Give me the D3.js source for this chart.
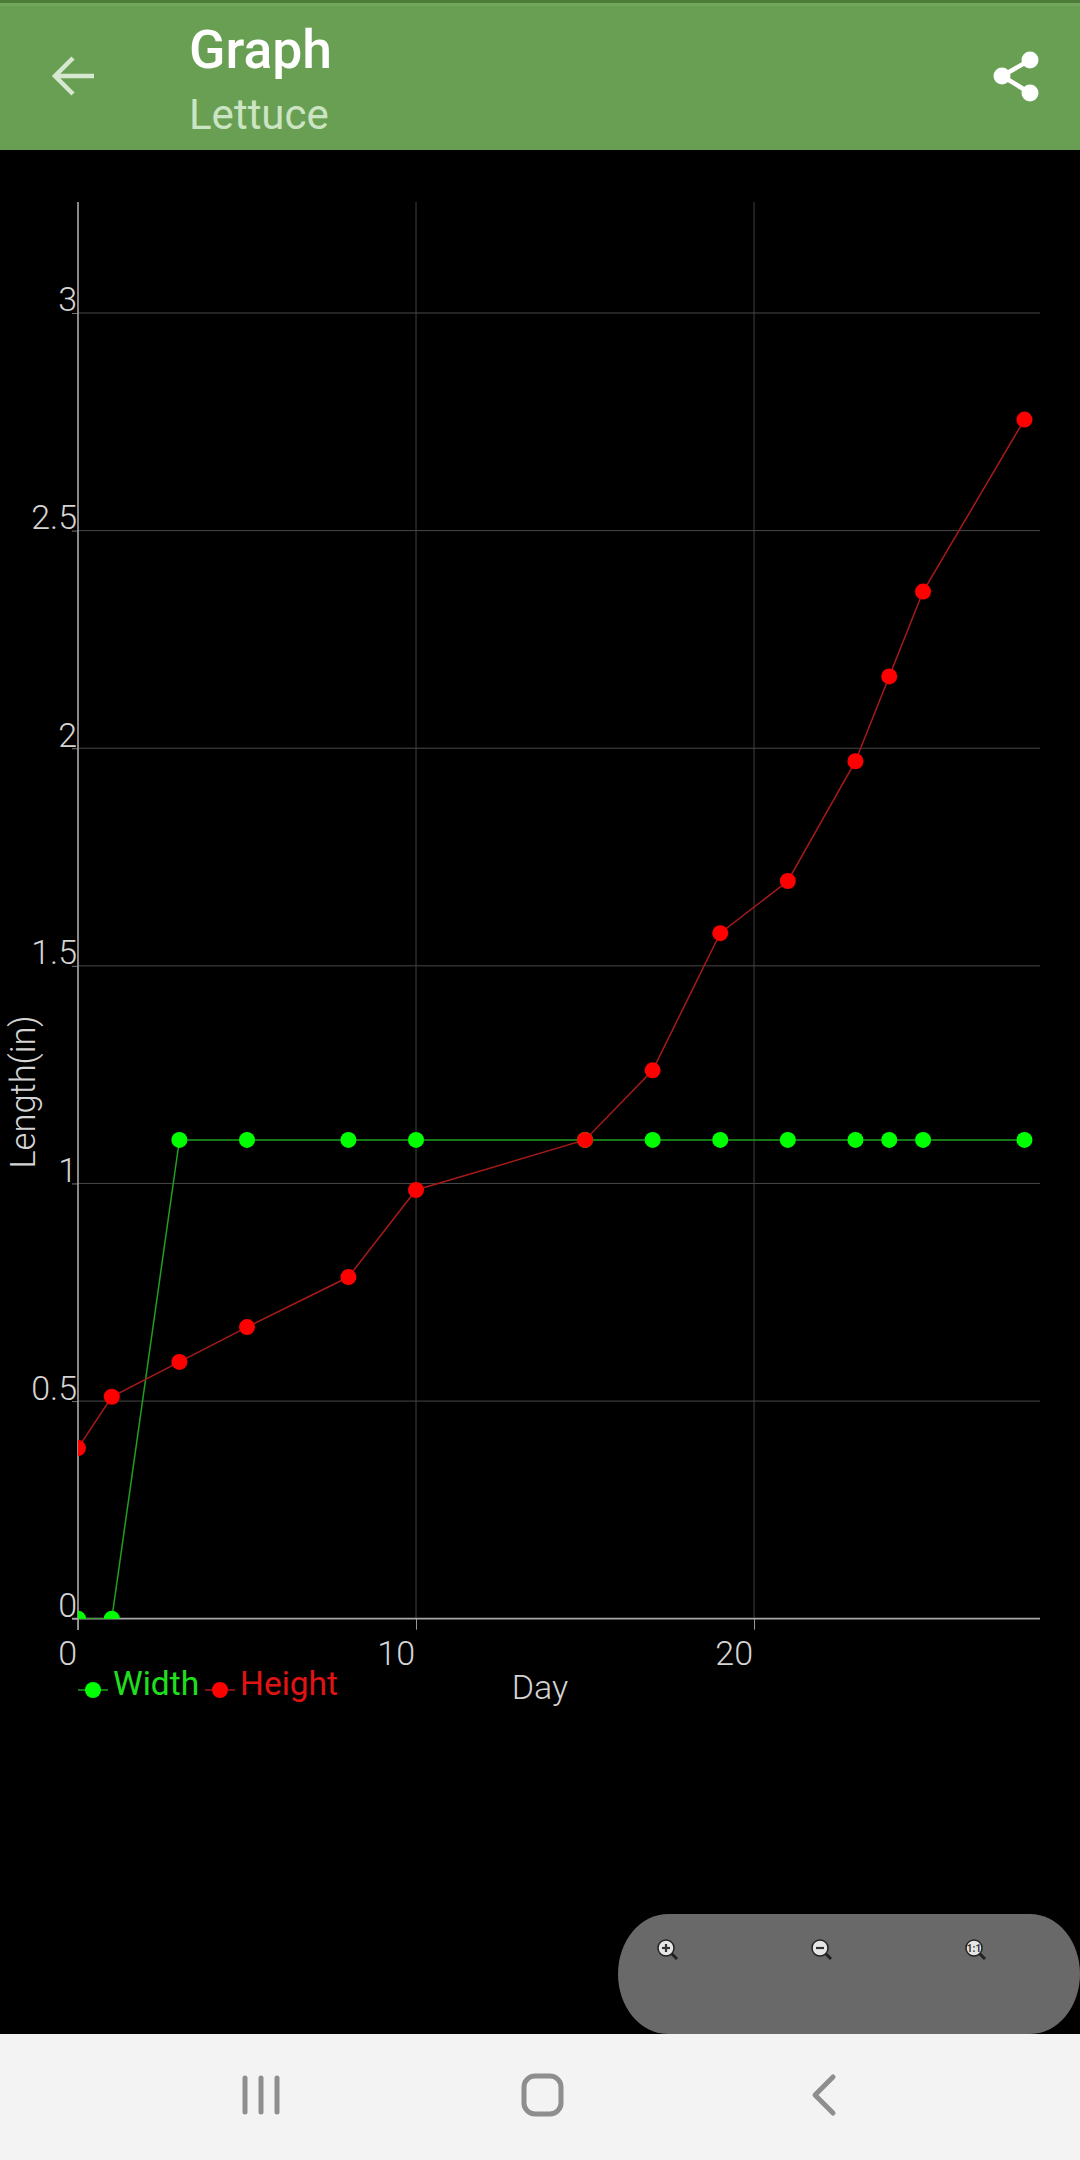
<!DOCTYPE html>
<html><head><meta charset="utf-8">
<script src="https://cdn.jsdelivr.net/npm/d3@7/dist/d3.min.js"></script>
<style>html,body{margin:0;padding:0;background:#000;overflow:hidden}svg{display:block}text{font-family:Roboto,sans-serif}</style>
</head><body><svg id="c" width="1080" height="2160"></svg>
<script>
const days=[0,1,3,5,8,10,15,17,19,21,23,24,25,28];
const widthValues=[0,0,1.1,1.1,1.1,1.1,1.1,1.1,1.1,1.1,1.1,1.1,1.1,1.1];
const heightValues=[0.392,0.51,0.59,0.67,0.785,0.985,1.1,1.26,1.575,1.695,1.97,2.165,2.36,2.755];
const xTicks=[0,10,20];
const yTicks=[0,0.5,1,1.5,2,2.5,3];
const seriesNames=["Width","Height"];
const seriesColors=["#00ff00","#ff0000"];
const lineColors=["#1fa01f","#a81a1a"];

const svg=d3.select("#c");
const W=1080;
// chrome
svg.append("rect").attr("width",W).attr("height",2160).attr("fill","#000");
svg.append("rect").attr("width",W).attr("height",150).attr("fill","#699f52");
svg.append("rect").attr("width",W).attr("height",3).attr("fill","#4d7c38");
svg.append("rect").attr("y",3).attr("width",W).attr("height",3).attr("fill","#72a65c");
svg.append("text").attr("x",189).attr("y",68).attr("font-size",53.5).attr("font-weight",500).attr("fill","#fff").text("Graph");
svg.append("text").attr("x",189).attr("y",129).attr("font-size",42).attr("fill","#cbe4c3").text("Lettuce");
svg.append("path").attr("d","M94 76H56M73 58L55 76L73 94").attr("fill","none").attr("stroke","#d6e8d0").attr("stroke-width",4.5);
const sh=svg.append("g").attr("fill","#fff");
sh.append("path").attr("d","M1030 60L1002 76L1030 93").attr("fill","none").attr("stroke","#fff").attr("stroke-width",4.5);
[[1030,60],[1002,76],[1030,93]].forEach(p=>sh.append("circle").attr("cx",p[0]).attr("cy",p[1]).attr("r",8.5));

// chart
const x=d3.scaleLinear().domain([0,28.46]).range([78,1040]);
const y=d3.scaleLinear().domain([0,3.255]).range([1618.7,202]);
const clipId="plotClip";
svg.append("clipPath").attr("id",clipId).append("rect").attr("x",78).attr("y",202).attr("width",962).attr("height",1416.7);

const gx=svg.append("g").attr("transform","translate(0,1618.7)")
 .call(d3.axisBottom(x).tickValues(xTicks).tickSize(11).tickFormat(""));
gx.select(".domain").remove();
gx.selectAll("line").attr("stroke","#999").attr("stroke-width",1);
const gy=svg.append("g").attr("transform","translate(78,0)")
 .call(d3.axisLeft(y).tickValues(yTicks).tickSize(6).tickFormat(""));
gy.select(".domain").remove();
gy.selectAll("line").attr("stroke","#777").attr("stroke-width",1);

svg.append("g").selectAll("line").data(xTicks.filter(d=>d>0)).join("line")
 .attr("x1",d=>x(d)).attr("x2",d=>x(d)).attr("y1",202).attr("y2",1618.7).attr("stroke","#404040").attr("stroke-width",1);
svg.append("g").selectAll("line").data(yTicks.filter(d=>d>0)).join("line")
 .attr("x1",78).attr("x2",1040).attr("y1",d=>y(d)).attr("y2",d=>y(d)).attr("stroke","#484848").attr("stroke-width",1);
svg.append("line").attr("x1",78).attr("x2",78).attr("y1",202).attr("y2",1630).attr("stroke","#989898").attr("stroke-width",1.8);
svg.append("line").attr("x1",72).attr("x2",1040).attr("y1",1618.7).attr("y2",1618.7).attr("stroke","#a8a8a8").attr("stroke-width",1.8);

const labelFill="#d4d4d4";
const fs=34, fw=400;
svg.append("g").selectAll("text").data(yTicks).join("text")
 .attr("x",77).attr("y",d=>y(d)-1.5).attr("text-anchor","end").attr("font-size",fs).attr("font-weight",300).attr("fill",labelFill).text(d=>d);
svg.append("g").selectAll("text").data(xTicks).join("text")
 .attr("x",d=>x(d)-1).attr("y",1665).attr("text-anchor","end").attr("font-size",fs).attr("font-weight",300).attr("fill",labelFill).text(d=>d);
svg.append("text").attr("x",540).attr("y",1699).attr("text-anchor","middle").attr("font-size",fs).attr("font-weight",300).attr("fill",labelFill).text("Day");
svg.append("text").attr("transform","translate(35,1092) rotate(-90)").attr("text-anchor","middle").attr("font-size",34.5).attr("font-weight",300).attr("fill",labelFill).text("Length(in)");

// series
const plot=svg.append("g").attr("clip-path",`url(#${clipId})`);
const line=d3.line().x(d=>x(d[0])).y(d=>y(d[1]));
[widthValues,heightValues].forEach((vals,i)=>{
  const pts=days.map((d,j)=>[d,vals[j]]);
  plot.append("path").datum(pts).attr("d",line).attr("fill","none").attr("stroke",lineColors[i]).attr("stroke-width",1.5);
  plot.append("g").selectAll("circle").data(pts).join("circle")
   .attr("cx",d=>x(d[0])).attr("cy",d=>y(d[1])).attr("r",8).attr("fill",seriesColors[i]);
});

// legend
const legX=d3.scaleOrdinal().domain(seriesNames).range([78,205]);
seriesNames.forEach((n,i)=>{
  const lx=legX(n);
  svg.append("line").attr("x1",lx).attr("x2",lx+30).attr("y1",1690).attr("y2",1690).attr("stroke",lineColors[i]).attr("stroke-width",1.5);
  svg.append("circle").attr("cx",lx+15).attr("cy",1690).attr("r",8).attr("fill",seriesColors[i]);
  svg.append("text").attr("x",lx+35).attr("y",1695).attr("font-size",33.5).attr("font-weight",fw).attr("fill",i?"#e01414":"#1fe01f").text(n);
});

// zoom panel
svg.append("path").attr("d","M1030 1914H668A50 60 0 0 0 618 1974A50 60 0 0 0 668 2034H1030A50 60 0 0 0 1080 1974A50 60 0 0 0 1030 1914Z").attr("fill","#696969");
function glass(cx,cy,sym){
  const g=svg.append("g");
  g.append("line").attr("x1",cx+5).attr("y1",cy+5).attr("x2",cx+11).attr("y2",cy+11).attr("stroke","#222").attr("stroke-width",3);
  g.append("circle").attr("cx",cx).attr("cy",cy).attr("r",8).attr("fill","#e6e6e6").attr("stroke","#222").attr("stroke-width",1.5);
  if(sym==="+"||sym==="-") g.append("line").attr("x1",cx-4).attr("x2",cx+4).attr("y1",cy).attr("y2",cy).attr("stroke","#333").attr("stroke-width",2.2);
  if(sym==="+") g.append("line").attr("x1",cx).attr("x2",cx).attr("y1",cy-4).attr("y2",cy+4).attr("stroke","#333").attr("stroke-width",2.2);
  if(sym==="1") g.append("text").attr("x",cx).attr("y",cy+3.5).attr("text-anchor","middle").attr("font-size",10).attr("font-weight",700).attr("fill","#333").text("1:1");
}
glass(666,1948,"+");glass(820,1948,"-");glass(974,1948,"1");

// nav bar
svg.append("rect").attr("y",2034).attr("width",W).attr("height",126).attr("fill","#f3f3f3");
const nav=svg.append("g").attr("fill","none").attr("stroke","#8e8e8e").attr("stroke-linecap","round").attr("stroke-linejoin","round").attr("stroke-width",5);
[245,261,277].forEach(px=>nav.append("line").attr("x1",px).attr("x2",px).attr("y1",2078).attr("y2",2112));
nav.append("rect").attr("x",524).attr("y",2076).attr("width",37).attr("height",38).attr("rx",11);
nav.append("path").attr("d","M833 2077L815 2095L833 2113");
</script></body></html>
